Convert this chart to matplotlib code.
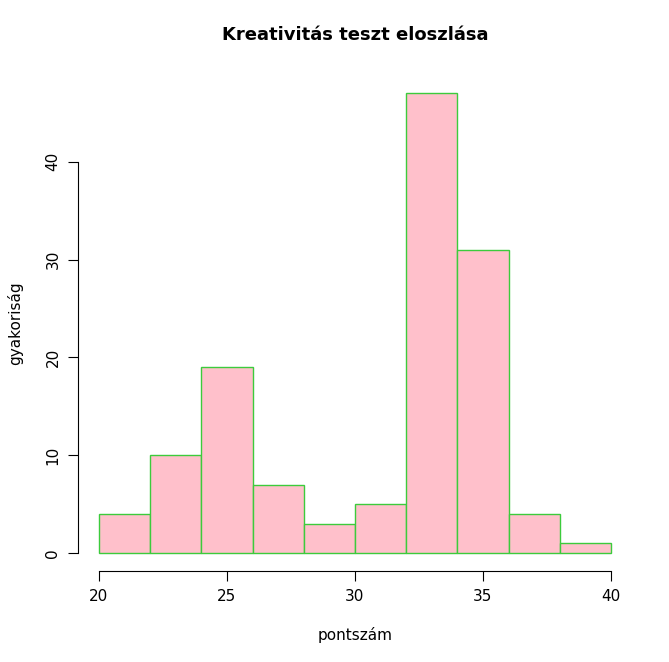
import matplotlib
matplotlib.use("Agg")
from matplotlib import pyplot as plt

# Histogram bins and counts
bin_edges = [20, 22, 24, 26, 28, 30, 32, 34, 36, 38, 40]
counts = [4, 10, 19, 7, 3, 5, 47, 31, 4, 1]
x_ticks = [20, 25, 30, 35, 40]
y_ticks = [0, 10, 20, 30, 40]

fig = plt.figure(figsize=(6.69, 6.62), dpi=100)
ax = fig.add_axes([0.1173, 0.1369, 0.8266, 0.750])

widths = [b - a for a, b in zip(bin_edges[:-1], bin_edges[1:])]
ax.bar(bin_edges[:-1], counts, width=widths, align='edge',
       facecolor='#FFC0CB', edgecolor='#3CCB3C', linewidth=1)

ax.set_xlim(19.2, 40.8)
ax.set_ylim(-1.88, 48.88)

ax.spines['top'].set_visible(False)
ax.spines['right'].set_visible(False)
ax.spines['left'].set_bounds(0, 40)
ax.spines['bottom'].set_bounds(20, 40)

ax.set_xticks(x_ticks)
ax.set_yticks(y_ticks)
ax.set_yticklabels([str(v) for v in y_ticks], rotation=90, va='center')
ax.tick_params(labelsize=11, length=7, pad=6)

ax.set_title("Kreativitás teszt eloszlása", fontsize=13, fontweight='bold', pad=25)
ax.set_xlabel("pontszám", fontsize=11, labelpad=16)
ax.set_ylabel("gyakoriság", fontsize=11, labelpad=16)

fig.savefig("out.png", dpi=100)
